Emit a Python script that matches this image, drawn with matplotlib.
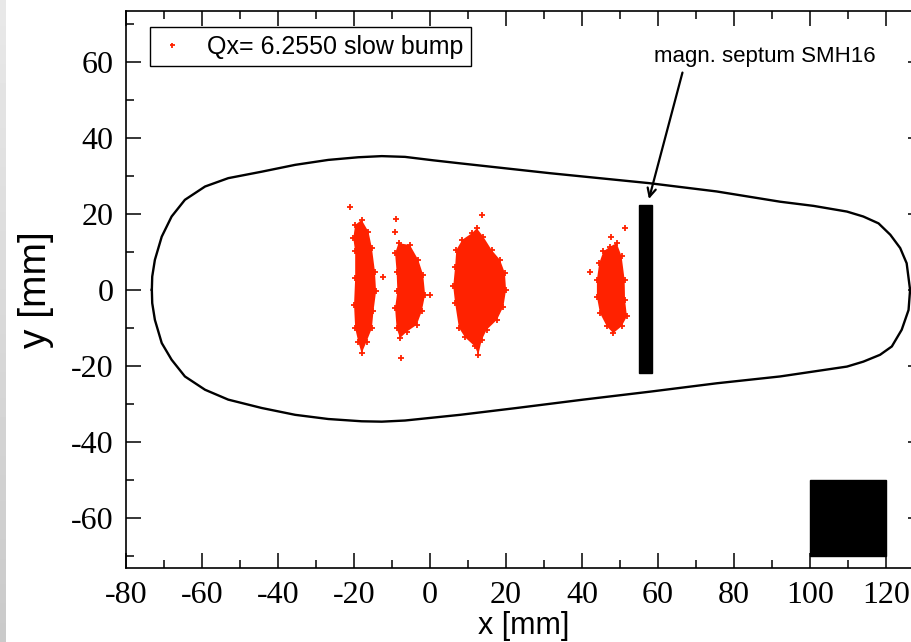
import matplotlib
matplotlib.use("Agg")
import matplotlib.pyplot as plt
import numpy as np
from matplotlib.patches import Rectangle
from matplotlib.ticker import MultipleLocator

plt.rcParams["axes.unicode_minus"] = False

# aperture contour (mm), traced counter-clockwise from the left tip
aper_x = [-73.2, -73.1, -72.4, -70.6, -68.0, -64.5, -59.2, -53.1, -44.3, -35.5, -26.8, -18.9, -12.7, -6.6,
          0.8, 7.9, 31.6, 57.5, 75.4, 92.1, 100.9, 109.7, 114.0, 118.0, 121.1, 123.7, 125.4, 126.3,
          125.9, 124.1, 121.5, 118.4, 114.0, 109.7, 100.9, 92.1, 75.4, 57.9, 40.3, 22.8, 7.9,
          -6.6, -12.7, -18.0, -26.8, -35.5, -44.3, -53.1, -59.2, -64.5, -68.0, -70.6, -72.4, -73.1, -73.2]
aper_y = [0.0, 3.5, 7.9, 14.0, 19.3, 23.7, 27.2, 29.4, 31.1, 32.9, 34.2, 34.9, 35.2, 35.0,
          34.1, 33.3, 30.7, 28.1, 25.9, 23.2, 22.1, 20.6, 19.3, 17.5, 14.5, 11.0, 7.0, 0.0,
          -5.3, -10.5, -14.9, -17.1, -18.9, -20.2, -21.5, -22.8, -24.6, -26.8, -28.9, -31.1, -32.9,
          -34.4, -34.7, -34.6, -34.0, -32.9, -31.1, -28.9, -26.3, -22.8, -18.4, -14.0, -7.9, -3.5, 0.0]

# beam spots: outline of each particle cloud (mm)
spot1_x = [-18.0, -16.2, -15.3, -14.5, -14.2, -14.9, -15.3, -16.7, -18.0, -18.9, -19.7, -20.0, -19.7, -19.7, -20.2, -19.7]
spot1_y = [18.4, 15.3, 11.0, 4.8, -0.4, -5.7, -10.1, -13.6, -16.7, -13.6, -10.1, -3.9, 3.1, 10.1, 13.6, 17.1]
spot2_x = [-8.3, -5.3, -3.1, -1.8, -1.3, -2.2, -3.5, -6.1, -7.9, -8.8, -9.2, -8.6, -8.8, -9.2]
spot2_y = [12.3, 11.8, 7.9, 3.9, -1.3, -5.7, -9.2, -11.0, -12.7, -10.1, -4.8, -0.4, 4.8, 9.6]
spot3_x = [12.3, 14.0, 16.2, 18.4, 19.7, 20.0, 19.3, 17.6, 14.9, 13.6, 12.7, 11.8, 9.2, 7.6,
           6.6, 6.1, 6.6, 6.9, 8.5, 11.0]
spot3_y = [16.2, 14.0, 10.5, 7.9, 4.4, 0.0, -4.4, -7.9, -10.5, -13.2, -17.1, -14.9, -12.5, -10.0,
           -3.5, 0.9, 6.1, 10.5, 13.2, 14.9]
spot4_x = [49.1, 50.4, 51.2, 51.3, 51.8, 50.4, 48.2, 46.5, 44.7, 43.9, 43.9, 44.5, 45.6, 47.4]
spot4_y = [12.3, 8.8, 2.6, -2.6, -7.0, -9.6, -11.4, -9.6, -6.1, -1.8, 2.6, 7.0, 10.1, 11.4]

# isolated particles away from the clouds
stray_x = [-21.1, -12.4, -8.9, -9.2, -7.6, 0.0, 13.6, 51.2, 47.6, 42.1]
stray_y = [21.9, 3.5, 18.6, 15.3, -18.0, -1.3, 19.7, 16.2, 13.9, 4.8]

# magnetic septum blade and the reference block (x0, y0, width, height)
septum = (55.0, -22.0, 3.4, 44.4)
block = (100.0, -70.0, 20.0, 20.0)

red = "#ff2200"

fig = plt.figure(figsize=(9.12, 6.42), dpi=100)

# shaded strip down the left edge
strip = fig.add_axes([0, 0, 6 / 912, 1])
strip.imshow(np.linspace(0.91, 0.79, 100).reshape(-1, 1), cmap="gray", vmin=0, vmax=1,
             aspect="auto", extent=(0, 1, 0, 1))
strip.axis("off")

ax = fig.add_axes([126 / 912, 73.7 / 642, 797 / 912, 557.3 / 642])

ax.plot(aper_x, aper_y, color="black", lw=1.7, zorder=3, solid_joinstyle="round")

spots = [(spot1_x, spot1_y), (spot2_x, spot2_y), (spot3_x, spot3_y), (spot4_x, spot4_y)]
for sx, sy in spots:
    ax.fill(sx, sy, color=red, lw=0, zorder=2)
    ax.plot(sx, sy, "+", color=red, ms=4.5, mew=1.3, zorder=2)
ax.plot(stray_x, stray_y, "+", color=red, ms=4.5, mew=1.3, zorder=2,
        label="Qx= 6.2550 slow bump")

ax.add_patch(Rectangle(septum[:2], septum[2], septum[3], color="black", zorder=4))
ax.add_patch(Rectangle(block[:2], block[2], block[3], color="black", zorder=4))

ax.text(88.2, 61.3, "magn. septum SMH16", fontsize=16, family="Liberation Sans",
        ha="center", va="center")
ax.annotate("", xy=(57.4, 23.2), xytext=(66.6, 57.9),
            arrowprops=dict(arrowstyle="->,head_length=0.6,head_width=0.3", lw=1.6, color="black"))

ax.set_xlim(-80, 129.7)
ax.set_ylim(-73.3, 73.4)
ax.xaxis.set_major_locator(MultipleLocator(20))
ax.xaxis.set_minor_locator(MultipleLocator(10))
ax.yaxis.set_major_locator(MultipleLocator(20))
ax.yaxis.set_minor_locator(MultipleLocator(10))
ax.tick_params(which="both", direction="in", top=True, right=True, width=1.1, pad=9)
ax.tick_params(which="major", length=11)
ax.tick_params(which="minor", length=6)
for lab in ax.get_xticklabels() + ax.get_yticklabels():
    lab.set_family("Liberation Serif")
    lab.set_fontsize(23)
for sp in ax.spines.values():
    sp.set_linewidth(1.2)

ax.set_xlabel("x [mm]", fontsize=22, family="Liberation Sans")
ax.set_ylabel("y [mm]", fontsize=28, family="Liberation Sans")
ax.xaxis.set_label_coords((524 - 126) / 797, -0.076)
ax.yaxis.set_label_coords(-0.09, 0.5)

leg = ax.legend(loc="upper left", bbox_to_anchor=(0.030, 0.971), borderaxespad=0,
                fancybox=False, edgecolor="black", framealpha=1,
                prop={"family": "Liberation Sans", "size": 18},
                handlelength=1.2, handletextpad=0.8, borderpad=0.3, markerscale=0.8)
leg.get_frame().set_linewidth(1.0)

fig.savefig("out.png", dpi=100)
